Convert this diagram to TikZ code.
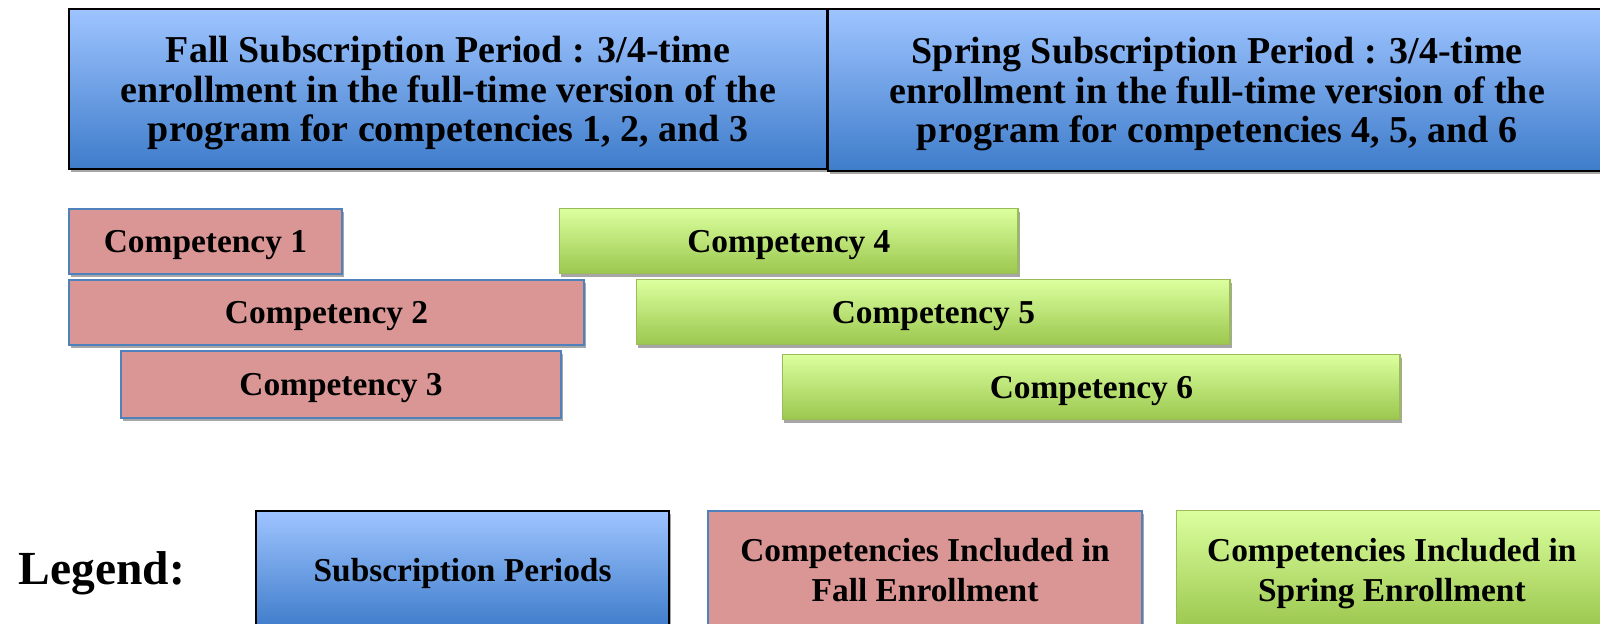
\documentclass[tikz,border=0pt]{standalone}
\usepackage{fontspec}
\setmainfont{Liberation Serif}
\usetikzlibrary{shadows}
\definecolor{bluetop}{RGB}{158,196,255}
\definecolor{bluebot}{RGB}{62,124,202}
\definecolor{pinkfill}{RGB}{217,150,148}
\definecolor{pinkdraw}{RGB}{79,129,189}
\definecolor{greentop}{RGB}{219,255,158}
\definecolor{greenbot}{RGB}{155,199,78}
\definecolor{greendraw}{RGB}{155,187,89}
\tikzset{
  base/.style={rectangle, anchor=north west, inner sep=0pt, align=center, text depth=0pt,
    font=\bfseries\fontsize{9.5}{11.2}\selectfont,
    drop shadow={shadow xshift=0.5pt, shadow yshift=-0.8pt, opacity=0.35, fill=black}},
  period/.style={base, draw=black, line width=0.55pt, top color=bluetop, bottom color=bluebot},
  fallc/.style={base, draw=pinkdraw, line width=0.5pt, fill=pinkfill},
  springc/.style={base, draw=greendraw, line width=0.4pt, top color=greentop, bottom color=greenbot},
  toptext/.style={font=\bfseries\fontsize{10.8}{11.2}\selectfont},
}
\begin{document}
\begin{tikzpicture}[x=0.01cm, y=-0.01cm]
\clip (0,0) rectangle (1600,623);
\fill[white] (0,0) rectangle (1600,623);
% subscription periods
\node[period, toptext, minimum width=7.58cm, minimum height=1.60cm] (fall) at (68,8)
  {Fall Subscription Period : 3/4-time\\enrollment in the full-time version of the\\program for competencies 1, 2, and 3};
\node[period, toptext, minimum width=7.78cm, minimum height=1.62cm] (spring) at (827,8)
  {Spring Subscription Period : 3/4-time\\enrollment in the full-time version of the\\program for competencies 4, 5, and 6};
% fall competencies
\node[fallc, minimum width=2.73cm, minimum height=0.65cm] (c1) at (68,208) {Competency 1};
\node[fallc, minimum width=5.15cm, minimum height=0.65cm] (c2) at (68,279) {Competency 2};
\node[fallc, minimum width=4.40cm, minimum height=0.67cm] (c3) at (120,350) {Competency 3};
% spring competencies
\node[springc, minimum width=4.58cm, minimum height=0.65cm] (c4) at (559,208) {Competency 4};
\node[springc, minimum width=5.93cm, minimum height=0.65cm] (c5) at (636,279) {Competency 5};
\node[springc, minimum width=6.17cm, minimum height=0.65cm] (c6) at (782,354) {Competency 6};
% legend
\node[anchor=west, inner sep=0pt, font=\bfseries\fontsize{13.5}{15}\selectfont] (legend) at (18,573) {Legend:};
\node[period, minimum width=4.13cm, minimum height=1.18cm] (lp) at (255,510) {Subscription Periods};
\node[fallc, minimum width=4.34cm, minimum height=1.18cm] (lf) at (707,510) {Competencies Included in\\Fall Enrollment};
\node[springc, minimum width=4.30cm, minimum height=1.18cm] (ls) at (1176,510) {Competencies Included in\\Spring Enrollment};
\end{tikzpicture}
\end{document}
